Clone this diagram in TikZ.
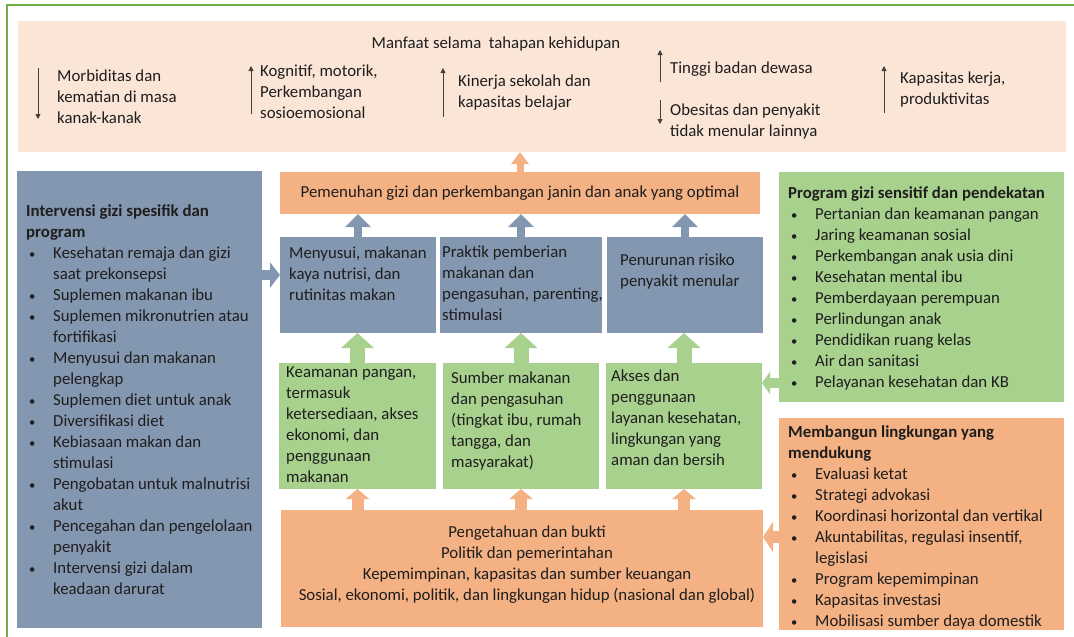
\documentclass[tikz,border=0pt]{standalone}
\usepackage{fontspec}
\setmainfont{Carlito}
\usetikzlibrary{arrows.meta, positioning}
\definecolor{peach}{HTML}{FBE5D6}
\definecolor{apricot}{HTML}{F4B183}
\definecolor{slate}{HTML}{8497B0}
\definecolor{leaf}{HTML}{A9D18E}
\definecolor{frame}{HTML}{70AD47}
\definecolor{ink}{HTML}{1E1E1E}
\definecolor{tick}{HTML}{404040}
\newcommand{\txtlines}[1]{\begin{tabular}[t]{@{}l@{}}#1\end{tabular}}
\newcommand{\bulletlist}[1]{\begin{tabular}[t]{@{}p{27pt}@{}l@{}}#1\end{tabular}}
\newcommand{\listhead}[1]{\multicolumn{2}{@{}l@{}}{\bfseries #1}}
\newcommand{\itm}{\hspace{3pt}\scalebox{0.75}{\textbullet}}
\tikzset{
  box/.style={
    anchor=north west,
    inner sep=0pt,
    outer sep=0pt
  },
  peachbox/.style={box, fill=peach},
  orangebox/.style={box, fill=apricot},
  bluebox/.style={box, fill=slate},
  greenbox/.style={box, fill=leaf},
  words/.style={
    anchor=base west,
    inner sep=0pt,
    text=ink,
    font=\fontsize{16.8}{21}\selectfont
  },
  trend/.style={draw=tick, line width=0.8pt, -{Triangle[width=5pt,length=5pt]}},
  bluearrow/.style={draw=slate, line width=8pt, -{Triangle[width=25pt,length=13pt]}},
  greenarrow/.style={draw=leaf, line width=15pt, -{Triangle[width=32pt,length=15pt]}},
  orangearrow/.style={draw=apricot, line width=12pt, -{Triangle[width=23pt,length=10pt]}}
}

\begin{document}
\begin{tikzpicture}[x=1pt, y=-1pt]
  \useasboundingbox (0,0) rectangle (1074,637);
  \draw[frame, line width=1.5pt] (7,637) -- (7,5) -- (1074,5);

  % benefits over the life course
  \node (top) [peachbox, minimum width=1048, minimum height=131] at (18,21) {};
  \node (title) [words, anchor=base] at (496,48) {Manfaat selama~ tahapan kehidupan};
  \node (mort) [words] at (57,81) {\txtlines{Morbiditas dan\\kematian di masa\\kanak-kanak}};
  \node (kogn) [words] at (260,76) {\txtlines{Kognitif, motorik,\\Perkembangan\\sosioemosional}};
  \node (kiner) [words] at (458,86) {\txtlines{Kinerja sekolah dan\\kapasitas belajar}};
  \node (tinggi) [words] at (670,73) {Tinggi badan dewasa};
  \node (obes) [words] at (670,115) {\txtlines{Obesitas dan penyakit\\tidak menular lainnya}};
  \node (kerja) [words] at (900,83) {\txtlines{Kapasitas kerja,\\produktivitas}};
  \draw[trend] (38,68) -- (38,119);
  \draw[trend] (251,114) -- (251,66);
  \draw[trend] (443,117) -- (443,68);
  \draw[trend] (660,82) -- (660,50);
  \draw[trend] (660,100) -- (660,124);
  \draw[trend] (884,113) -- (884,66);

  % outcome and drivers
  \node (opt) [orangebox, minimum width=480, minimum height=42] at (280,172)
    {\fontsize{16.8}{21}\selectfont\color{ink}Pemenuhan gizi dan perkembangan janin dan anak yang optimal};
  \node (b1) [bluebox, minimum width=156, minimum height=96] at (280,237) {};
  \node (b2) [bluebox, minimum width=162, minimum height=96] at (440,237) {};
  \node (b3) [bluebox, minimum width=156, minimum height=96] at (607,237) {};
  \node (b1t) [words] at (289,258) {\txtlines{Menyusui, makanan\\kaya nutrisi, dan\\rutinitas makan}};
  \node (b2t) [words] at (442,257) {\txtlines{Praktik pemberian\\makanan dan\\pengasuhan, parenting,\\stimulasi}};
  \node (b3t) [words] at (620,265) {\txtlines{Penurunan risiko\\penyakit menular}};

  % underlying drivers
  \node (g1) [greenbox, minimum width=157, minimum height=126] at (279,363) {};
  \node (g2) [greenbox, minimum width=156, minimum height=126] at (443,363) {};
  \node (g3) [greenbox, minimum width=156, minimum height=126] at (606,363) {};
  \node (g1t) [words] at (286,377) {\txtlines{Keamanan pangan,\\termasuk\\ketersediaan, akses\\ekonomi, dan\\penggunaan\\makanan}};
  \node (g2t) [words] at (451,383) {\txtlines{Sumber makanan\\dan pengasuhan\\(tingkat ibu, rumah\\tangga, dan\\masyarakat)}};
  \node (g3t) [words] at (611,381) {\txtlines{Akses dan\\penggunaan\\layanan kesehatan,\\lingkungan yang\\aman dan bersih}};

  % enabling environment
  \node (base) [orangebox, minimum width=482, minimum height=117] at (281,510) {};
  \node (baset) [words, anchor=base] at (527,537) {\begin{tabular}[t]{@{}c@{}}Pengetahuan dan bukti\\Politik dan pemerintahan\\Kepemimpinan, kapasitas dan sumber keuangan\\Sosial, ekonomi, politik, dan lingkungan hidup (nasional dan global)\end{tabular}};

  % side programmes
  \node (spec) [bluebox, minimum width=245, minimum height=457] at (17,171) {};
  \node (spect) [words] at (26,216) {\bulletlist{
    \listhead{Intervensi gizi spesifik dan}\\
    \listhead{program}\\
    \itm & Kesehatan remaja dan gizi\\
    & saat prekonsepsi\\
    \itm & Suplemen makanan ibu\\
    \itm & Suplemen mikronutrien atau\\
    & fortifikasi\\
    \itm & Menyusui dan makanan\\
    & pelengkap\\
    \itm & Suplemen diet untuk anak\\
    \itm & Diversifikasi diet\\
    \itm & Kebiasaan makan dan\\
    & stimulasi\\
    \itm & Pengobatan untuk malnutrisi\\
    & akut\\
    \itm & Pencegahan dan pengelolaan\\
    & penyakit\\
    \itm & Intervensi gizi dalam\\
    & keadaan darurat}};
  \node (sens) [greenbox, minimum width=285, minimum height=230] at (779,172) {};
  \node (senst) [words] at (788,198) {\bulletlist{
    \listhead{Program gizi sensitif dan pendekatan}\\
    \itm & Pertanian dan keamanan pangan\\
    \itm & Jaring keamanan sosial\\
    \itm & Perkembangan anak usia dini\\
    \itm & Kesehatan mental ibu\\
    \itm & Pemberdayaan perempuan\\
    \itm & Perlindungan anak\\
    \itm & Pendidikan ruang kelas\\
    \itm & Air dan sanitasi\\
    \itm & Pelayanan kesehatan dan KB}};
  \node (env) [orangebox, minimum width=285, minimum height=212] at (779,418) {};
  \node (envt) [words] at (788,437) {\bulletlist{
    \listhead{Membangun lingkungan yang}\\
    \listhead{mendukung}\\
    \itm & Evaluasi ketat\\
    \itm & Strategi advokasi\\
    \itm & Koordinasi horizontal dan vertikal\\
    \itm & Akuntabilitas, regulasi insentif,\\
    & legislasi\\
    \itm & Program kepemimpinan\\
    \itm & Kapasitas investasi\\
    \itm & Mobilisasi sumber daya domestik}};

  \coordinate (la) at (270,275);
  \coordinate (ga) at (770,383);
  \coordinate (oa) at (770,537);
  \path
  (opt.north) edge[draw=apricot, line width=7pt, -{Triangle[width=17pt,length=12pt]}] (opt.north |- top.south)
  (b1.north) edge[bluearrow] (b1.north |- opt.south)
  (b2.north) edge[bluearrow] (b2.north |- opt.south)
  (b3.north) edge[bluearrow] (b3.north |- opt.south)
  (g1.north) edge[greenarrow] (g1.north |- b1.south)
  (g2.north) edge[greenarrow] (g2.north |- b2.south)
  (g3.north) edge[greenarrow] (g3.north |- b3.south)
  (g1.south |- base.north) edge[orangearrow] (g1.south)
  (g2.south |- base.north) edge[orangearrow] (g2.south)
  (g3.south |- base.north) edge[orangearrow] (g3.south)
  (spec.east |- la) edge[draw=slate, line width=10pt, -{Triangle[width=25pt,length=10pt]}] (b1.west |- la)
  (sens.west |- ga) edge[draw=leaf, line width=10pt, -{Triangle[width=22pt,length=8pt]}] (g3.east |- ga)
  (env.west |- oa) edge[draw=apricot, line width=12pt, -{Triangle[width=30pt,length=10pt]}] (base.east |- oa)
  ;
\end{tikzpicture}
\end{document}
